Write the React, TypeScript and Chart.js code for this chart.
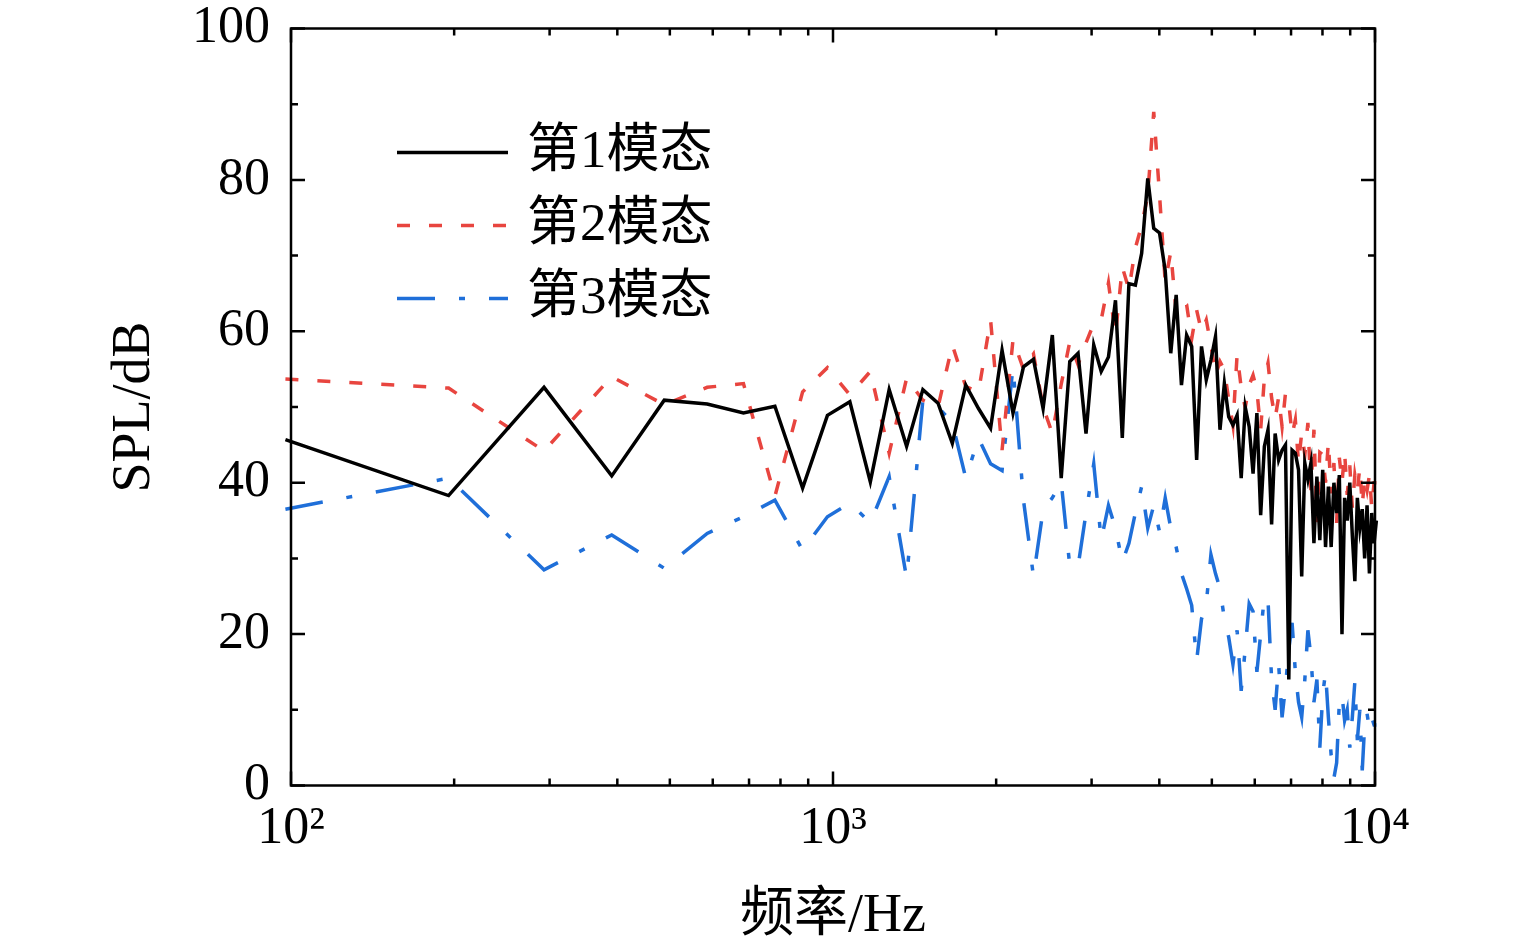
import { useEffect, useRef } from "react"
import { Chart, registerables } from "chart.js"

Chart.register(...registerables)

// FFT bin spacing (Hz); bins k = 1..103
const FREQ_STEP = 97.65625

const SERIES_LABELS = ["第1模态", "第2模态", "第3模态"]

const MODE1_SPL = [
  45.7, 38.3, 52.6, 40.9, 50.9, 50.4, 49.2, 50.1, 39.3, 48.9,
  50.7, 40.1, 52.3, 44.8, 52.3, 50.5, 45.2, 52.9, 49.8, 47.2,
  57.5, 49.2, 55.3, 56.3, 49.8, 59.5, 40.6, 56.0, 57.1, 46.5,
  58.2, 54.7, 56.6, 64.1, 45.9, 66.3, 66.1, 70.3, 80.2, 73.6,
  73.0, 68.0, 57.1, 64.8, 52.9, 59.5, 58.0, 43.0, 58.0, 53.6,
  56.2, 59.3, 47.0, 53.1, 48.7, 47.6, 48.9, 40.6, 50.0, 47.4,
  41.2, 49.2, 35.7, 44.8, 47.0, 34.5, 46.5, 43.0, 44.3, 45.0,
  14.0, 44.3, 43.9, 41.7, 27.6, 42.6, 40.4, 42.6, 32.0, 40.8,
  32.4, 41.7, 31.5, 39.5, 31.5, 40.0, 36.0, 41.0, 20.0, 38.0,
  35.0, 40.0, 33.0, 27.0, 38.0, 34.0, 36.5, 30.0, 37.0, 28.0,
  36.0, 32.0, 35.0,
]

const MODE2_SPL = [
  53.7, 52.5, 44.2, 54.0, 50.3, 52.6, 53.1, 38.2, 52.0, 55.2,
  51.6, 54.7, 43.9, 53.8, 50.9, 50.0, 58.2, 52.7, 52.0, 61.5,
  44.3, 58.9, 55.0, 57.0, 50.0, 46.5, 53.0, 58.6, 55.6, 58.5,
  61.0, 61.5, 66.4, 59.5, 68.5, 65.5, 71.0, 74.0, 78.0, 89.0,
  78.0, 66.5, 70.5, 62.5, 64.0, 63.5, 59.0, 62.8, 60.0, 61.5,
  58.2, 54.2, 56.0, 54.9, 51.0, 47.6, 56.9, 52.6, 49.9, 52.9,
  54.2, 52.2, 47.0, 53.8, 55.8, 51.2, 48.5, 51.3, 47.4, 51.8,
  50.5, 46.3, 48.3, 42.6, 46.6, 43.7, 47.9, 39.0, 47.0, 34.8,
  44.0, 43.7, 40.0, 45.4, 38.6, 42.6, 34.7, 43.3, 40.0, 44.0,
  38.4, 42.3, 36.7, 41.0, 39.0, 42.0, 37.0, 40.6, 39.0, 41.0,
  36.7, 40.0, 40.0,
]

const MODE3_SPL = [
  36.5, 40.6, 28.5, 33.1, 28.7, 33.3, 35.5, 37.7, 31.1, 35.5,
  37.3, 34.7, 40.8, 27.4, 50.9, 50.0, 47.9, 40.6, 45.9, 42.5,
  41.6, 55.3, 37.7, 27.6, 36.4, 38.0, 40.1, 29.0, 28.9, 36.0,
  42.5, 32.4, 37.0, 34.0, 29.5, 32.0, 36.0, 39.5, 34.0, 37.0,
  33.5, 38.0, 34.0, 31.5, 28.0, 26.0, 23.8, 16.5, 22.0, 24.0,
  30.5, 28.0, 26.0, 22.0, 19.6, 16.0, 20.5, 12.5, 18.0, 24.0,
  23.0, 15.0, 20.0, 25.0, 24.5, 14.0, 10.0, 16.0, 9.0, 13.0,
  18.0, 21.5, 15.0, 11.0, 9.0, 14.0, 20.5, 17.0, 11.0, 14.0,
  5.0, 12.0, 15.0, 9.0, 4.0, 1.0, 3.0, 11.0, 12.0, 8.6,
  10.0, 5.0, 9.0, 13.7, 6.0, 10.0, 2.0, 8.0, 9.5, 7.5,
  9.0, 8.0, 8.0,
]

const X_MAJOR = [100, 1000, 10000]
const X_LABELS: Record<number, string> = { 100: "10²", 1000: "10³", 10000: "10⁴" }
const Y_MIN = 0
const Y_MAX = 100

const FONT = '"Liberation Serif", "Noto Sans CJK SC", serif'

const toPoints = (values: number[]) =>
  values.map((v, i) => ({ x: (i + 1) * FREQ_STEP, y: v }))

// box frame with inward ticks on all four sides
const frameTicks = {
  id: "frameTicks",
  afterDatasetsDraw(chart: any) {
    const { ctx, chartArea, scales } = chart
    const { left, right, top, bottom } = chartArea
    const x = scales.x
    const y = scales.y
    ctx.save()
    ctx.strokeStyle = "#000"
    ctx.lineWidth = 2.5
    ctx.beginPath()
    for (let d = 100; d <= 10000; d *= 10) {
      for (let m = 1; m <= 9; m++) {
        const f = m * d
        if (f > 10000) break
        const px = x.getPixelForValue(f)
        const len = m === 1 ? 14 : 7
        ctx.moveTo(px, bottom)
        ctx.lineTo(px, bottom - len)
        ctx.moveTo(px, top)
        ctx.lineTo(px, top + len)
      }
    }
    for (let v = Y_MIN; v <= Y_MAX; v += 10) {
      const py = y.getPixelForValue(v)
      const len = v % 20 === 0 ? 14 : 7
      ctx.moveTo(left, py)
      ctx.lineTo(left + len, py)
      ctx.moveTo(right, py)
      ctx.lineTo(right - len, py)
    }
    ctx.stroke()
    ctx.strokeRect(left, top, right - left, bottom - top)
    ctx.restore()
  },
}

const insideLegend = {
  id: "insideLegend",
  afterDraw(chart: any) {
    const { ctx, chartArea } = chart
    ctx.save()
    chart.data.datasets.forEach((ds: any, i: number) => {
      const yy = chartArea.top + 124 + i * 73
      ctx.beginPath()
      ctx.setLineDash(ds.borderDash || [])
      ctx.strokeStyle = ds.borderColor
      ctx.lineWidth = ds.borderWidth
      ctx.moveTo(chartArea.left + 106, yy)
      ctx.lineTo(chartArea.left + 217, yy)
      ctx.stroke()
      ctx.setLineDash([])
      ctx.fillStyle = "#000"
      ctx.font = `53px ${FONT}`
      ctx.textBaseline = "middle"
      ctx.textAlign = "left"
      ctx.fillText(ds.label, chartArea.left + 236, yy + 1)
    })
    ctx.restore()
  },
}

export default function App() {
  const chartRef = useRef<HTMLCanvasElement>(null)
  const chartInstance = useRef<Chart | null>(null)

  useEffect(() => {
    if (!chartRef.current) return
    if (chartInstance.current) chartInstance.current.destroy()
    const ctx = chartRef.current.getContext("2d")
    if (!ctx) return

    chartInstance.current = new Chart(ctx, {
      type: "line",
      data: {
        datasets: [
          {
            label: SERIES_LABELS[0],
            data: toPoints(MODE1_SPL),
            borderColor: "#000000",
            borderWidth: 3.5,
            pointRadius: 0,
            clip: false,
          },
          {
            label: SERIES_LABELS[1],
            data: toPoints(MODE2_SPL),
            borderColor: "#E8453F",
            borderWidth: 3.5,
            borderDash: [13, 19],
            pointRadius: 0,
            clip: false,
          },
          {
            label: SERIES_LABELS[2],
            data: toPoints(MODE3_SPL),
            borderColor: "#1F6FD9",
            borderWidth: 3.5,
            borderDash: [38, 24, 6, 24],
            pointRadius: 0,
            clip: false,
          },
        ] as any,
      },
      options: {
        responsive: true,
        maintainAspectRatio: false,
        animation: false,
        events: [],
        layout: {
          padding: { top: 28.5, right: 141, bottom: 0, left: 0 },
        },
        plugins: {
          legend: { display: false },
          tooltip: { enabled: false },
        },
        scales: {
          x: {
            type: "logarithmic",
            min: 100,
            max: 10000,
            grid: { display: false, drawTicks: false },
            border: { display: false },
            afterBuildTicks: (scale: any) => {
              scale.ticks = X_MAJOR.map((v) => ({ value: v }))
            },
            afterFit: (scale: any) => {
              scale.height = 166.5
              scale.paddingLeft = 0
              scale.paddingRight = 0
            },
            ticks: {
              autoSkip: false,
              maxRotation: 0,
              padding: 13,
              color: "#000",
              font: { family: FONT, size: 52 },
              callback: (v: any) => X_LABELS[Number(v)] ?? "",
            },
            title: {
              display: true,
              text: "频率/Hz",
              color: "#000",
              font: { family: FONT, size: 54 },
              padding: { top: 0, bottom: 2.6 },
            },
          },
          y: {
            min: Y_MIN,
            max: Y_MAX,
            grid: { display: false, drawTicks: false },
            border: { display: false },
            afterFit: (scale: any) => {
              scale.width = 291
              scale.paddingTop = 0
              scale.paddingBottom = 0
            },
            ticks: {
              stepSize: 20,
              padding: 21,
              color: "#000",
              font: { family: FONT, size: 52 },
            },
            title: {
              display: true,
              text: "SPL/dB",
              color: "#000",
              font: { family: FONT, size: 54 },
              padding: { top: 102.6, bottom: 0 },
            },
          },
        },
      },
      plugins: [frameTicks, insideLegend],
    } as any)

    return () => {
      if (chartInstance.current) {
        chartInstance.current.destroy()
        chartInstance.current = null
      }
    }
  }, [])

  return (
    <div style={{ position: "fixed", left: 0, top: 0, width: 1516, height: 952, background: "#fff" }}>
      <canvas ref={chartRef} />
    </div>
  )
}
